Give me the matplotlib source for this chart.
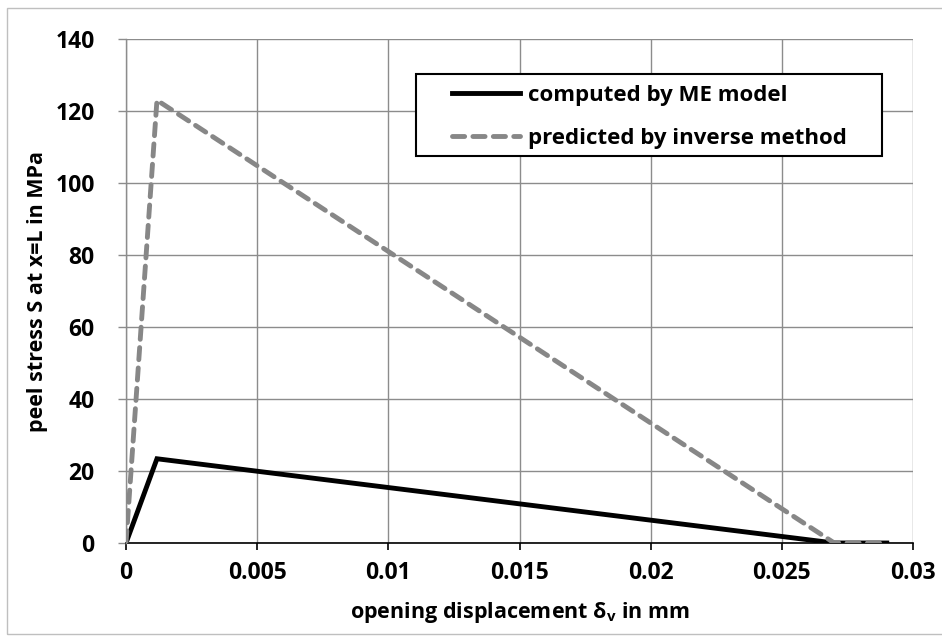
import matplotlib
matplotlib.use("Agg")
import matplotlib.pyplot as plt
from matplotlib.patches import Rectangle

# peel stress vs opening displacement (bilinear traction laws)
delta_me = [0.0, 0.00118, 0.0270, 0.0290]
stress_me = [0.0, 23.4, 0.0, 0.0]

delta_inv = [0.0, 0.00118, 0.0270, 0.0290]
stress_inv = [0.0, 123.0, 0.0, 0.0]

xticks = [0, 0.005, 0.01, 0.015, 0.02, 0.025, 0.03]
xtick_labels = ['0', '0.005', '0.01', '0.015', '0.02', '0.025', '0.03']
yticks = [0, 20, 40, 60, 80, 100, 120, 140]

plt.rcParams['font.family'] = ['Open Sans', 'DejaVu Sans']
plt.rcParams['font.weight'] = 'bold'
plt.rcParams['mathtext.fontset'] = 'custom'
plt.rcParams['mathtext.rm'] = 'Open Sans:bold'
plt.rcParams['mathtext.it'] = 'Open Sans:bold'

grid_col = '#8c8c8c'
W, H = 942, 636

fig = plt.figure(figsize=(W / 100, H / 100), dpi=100)
ax = fig.add_axes([126 / W, 93 / H, 787 / W, 504 / H])

# outer chart frame (cropped on the right like the original)
fig.patches.append(Rectangle((7 / W, 2 / H), 1.0, 626 / H,
                             transform=fig.transFigure, fill=False,
                             edgecolor='#bfbfbf', linewidth=1.0))

ax.plot(delta_me, stress_me, color='black', linewidth=3.5,
        solid_joinstyle='miter', label='computed by ME model', zorder=3)
ax.plot(delta_inv, stress_inv, color='#878787', linewidth=3.5,
        dashes=(2.5, 1.7), dash_capstyle='round',
        label='predicted by inverse method', zorder=4)

ax.set_xlim(0, 0.03)
ax.set_ylim(0, 140)
ax.set_xticks(xticks)
ax.set_xticklabels(xtick_labels)
ax.set_yticks(yticks)

ax.grid(True, color=grid_col, linewidth=1.0)
ax.set_axisbelow(True)
for s in ['top', 'right']:
    ax.spines[s].set_visible(False)
ax.spines['left'].set_color(grid_col)
ax.spines['left'].set_linewidth(1.0)
ax.spines['bottom'].set_color('black')
ax.spines['bottom'].set_linewidth(1.2)
ax.spines['bottom'].set_zorder(2)

ax.tick_params(axis='x', direction='out', length=5, width=1.2, color='black',
               labelsize=16.5, pad=8)
ax.tick_params(axis='y', direction='out', length=6, width=1.0, color=grid_col,
               labelsize=16.5, pad=16.5)
for lbl in ax.get_xticklabels() + ax.get_yticklabels():
    lbl.set_fontweight('bold')

ax.set_xlabel(r'opening displacement δ$_\mathregular{v}$ in mm', fontsize=15.5,
              fontweight='bold', labelpad=11)
ax.set_ylabel('peel stress S at x=L in MPa', fontsize=15.5,
              fontweight='bold', labelpad=5)

# legend entries without frame, box drawn separately (wider side padding)
leg = ax.legend(loc='upper left',
                bbox_to_anchor=((452 - 126) / 787, 1 - (85 - 39) / 504),
                frameon=False, borderaxespad=0, borderpad=0,
                handlelength=3.05, handletextpad=0.36, labelspacing=1.0,
                prop={'size': 16, 'weight': 'bold'})
ax.add_patch(Rectangle(((416 - 126) / 787, 1 - (156 - 39) / 504),
                       466 / 787, 82 / 504, transform=ax.transAxes,
                       facecolor='white', edgecolor='black', linewidth=1.5,
                       zorder=5))
leg.set_zorder(6)

fig.savefig('out.png', dpi=100)
